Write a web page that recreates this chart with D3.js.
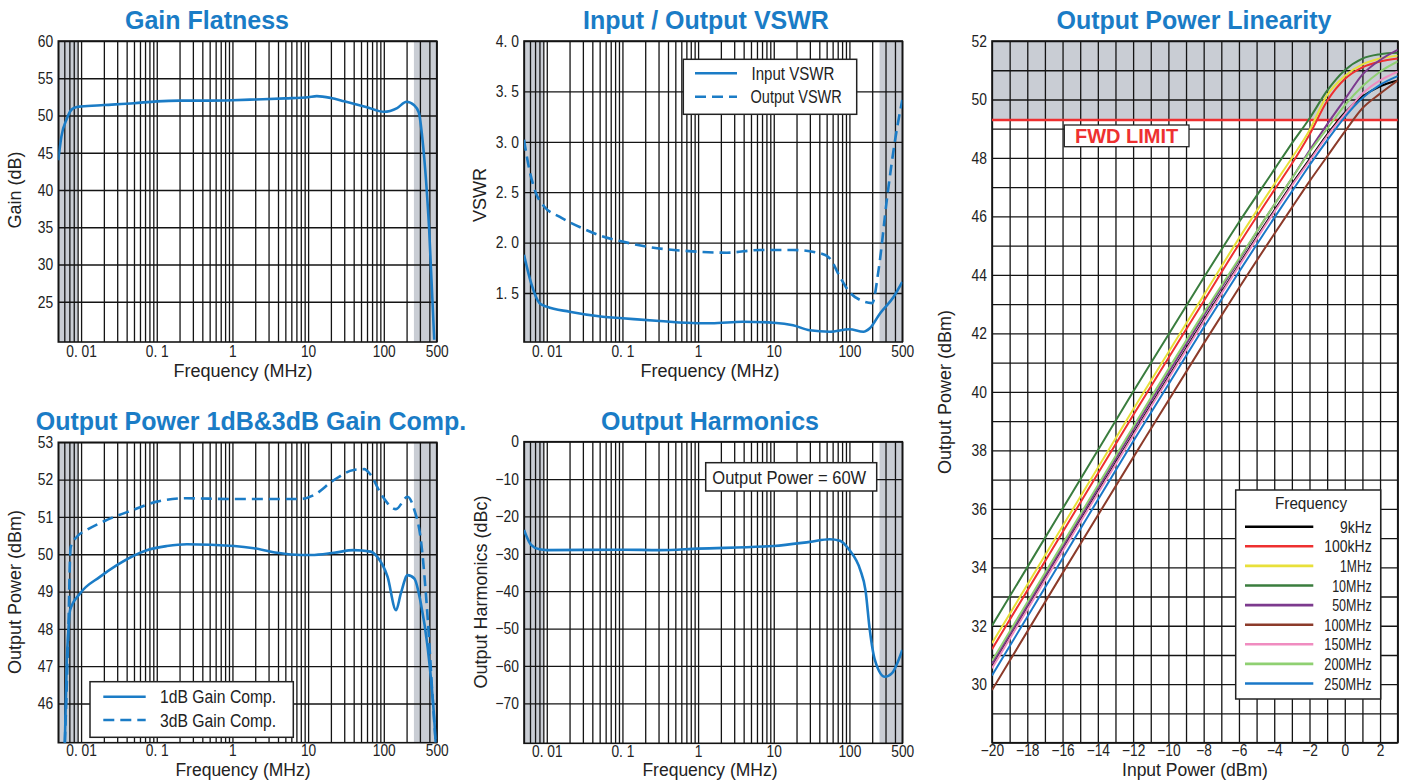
<!DOCTYPE html>
<html>
<head>
<meta charset="utf-8">
<script src="https://cdn.jsdelivr.net/npm/d3@7"></script>
<style>
  body { margin: 0; background: #fff; }
  svg text { font-family: "Liberation Sans", Arial, sans-serif; }
</style>
</head>
<body>
<svg id="chart" width="1403" height="780"></svg>
<script>
// ---------- data ----------
const freqDomain = [0.005, 500];
const xTickVals = [0.01, 0.1, 1, 10, 100, 500];
const xTickText = ['0. 01', '0. 1', '1', '10', '100', '500'];
const shadeBands = [[0.005, 0.009], [250, 500]];

const gainFreq = [0.005, 0.0055, 0.0065, 0.0075, 0.0088, 0.01, 0.02, 0.05, 0.1, 0.2, 0.5, 1, 2, 5, 10, 13, 20, 30, 60, 100, 150, 200, 250, 290, 325, 398, 464];
const gainDb   = [44.0, 47.2, 49.6, 50.8, 51.15, 51.2, 51.4, 51.65, 51.9, 52.0, 52.0, 52.05, 52.15, 52.3, 52.45, 52.6, 52.35, 51.9, 51.1, 50.5, 51.0, 51.85, 51.4, 50.4, 46.7, 34.6, 19.9];

const vswrInFreq = [0.005, 0.0062, 0.008, 0.01, 0.02, 0.055, 0.1, 0.31, 1, 1.5, 3.9, 10, 18, 30, 55, 100, 153, 186, 255, 383, 500];
const vswrIn     = [1.88, 1.60, 1.40, 1.365, 1.315, 1.265, 1.25, 1.222, 1.2, 1.2, 1.215, 1.205, 1.18, 1.13, 1.116, 1.14, 1.116, 1.15, 1.30, 1.46, 1.61];
const vswrOutFreq = [0.005, 0.0059, 0.0072, 0.0093, 0.0147, 0.03, 0.055, 0.1, 0.21, 1, 2.4, 6.6, 18, 41, 55, 75, 100, 139, 200, 243, 316, 408, 500];
const vswrOut     = [3.02, 2.72, 2.49, 2.356, 2.257, 2.14, 2.06, 2.01, 1.96, 1.91, 1.90, 1.927, 1.927, 1.894, 1.844, 1.66, 1.51, 1.43, 1.40, 1.73, 2.455, 3.05, 3.415];

const comp1Freq = [0.0061, 0.00646, 0.0068, 0.00715, 0.0097, 0.0179, 0.0297, 0.074, 0.136, 0.25, 1.06, 1.92, 3.9, 7.9, 11, 22, 40, 67, 82, 112, 145, 168, 206, 253, 309, 379, 462, 485];
const comp1     = [44.93, 47.08, 47.97, 48.5, 48.95, 49.4, 49.71, 50.11, 50.22, 50.27, 50.22, 50.16, 50.04, 49.98, 49.98, 50.04, 50.11, 50.07, 49.93, 49.4, 48.5, 48.95, 49.44, 49.35, 48.68, 47.52, 45.64, 44.95];
const comp3Freq = [0.0061, 0.0068, 0.00715, 0.0073, 0.0088, 0.0119, 0.022, 0.049, 0.1, 0.25, 1, 7.9, 12, 22, 40, 55, 67, 91, 145, 206, 253, 309, 379, 441, 485];
const comp3     = [44.95, 48.0, 49.93, 50.2, 50.47, 50.65, 50.92, 51.19, 51.41, 51.5, 51.48, 51.48, 51.59, 51.99, 52.26, 52.28, 52.13, 51.63, 51.21, 51.54, 51.19, 50.38, 48.32, 46.18, 44.95];

const harmFreq = [0.005, 0.0062, 0.008, 0.01, 0.1, 0.31, 1, 10, 30, 55, 75, 100, 139, 163, 186, 217, 294, 363, 500];
const harmDbc  = [-23.6, -27.6, -28.8, -29.0, -28.9, -29.0, -28.6, -27.9, -26.8, -26.1, -26.5, -29.0, -34.3, -39.7, -50.4, -58.4, -62.9, -62.0, -55.7];

const linInput = [-20, -16, -12, -8, -6, -4, -3, -2, -1, 0, 1, 2, 3];
const lin9k   = [30.6, 34.6, 38.55, 42.45, 44.35, 46.2, 47.1, 47.95, 48.8, 49.55, 50.1, 50.45, 50.65];
const lin100k = [31.2, 35.2, 39.2, 43.1, 45.05, 46.9, 47.8, 48.8, 49.95, 50.7, 51.1, 51.3, 51.4];
const lin1M   = [31.4, 35.4, 39.4, 43.3, 45.25, 47.1, 48.0, 48.95, 50.15, 50.8, 51.2, 51.4, 51.5];
const lin10M  = [32.0, 36.0, 40.0, 43.9, 45.8, 47.6, 48.5, 49.35, 50.3, 51.0, 51.4, 51.55, 51.6];
const lin50M  = [30.7, 34.7, 38.7, 42.6, 44.5, 46.4, 47.3, 48.25, 49.15, 50.0, 50.85, 51.35, 51.7];
const lin100M = [29.8, 33.8, 37.75, 41.65, 43.55, 45.4, 46.3, 47.2, 48.05, 48.9, 49.7, 50.2, 50.65];
const lin150M = [30.55, 34.55, 38.5, 42.4, 44.3, 46.15, 47.05, 47.9, 48.75, 49.5, 50.2, 50.65, 50.95];
const lin200M = [30.8, 34.8, 38.8, 42.7, 44.55, 46.4, 47.3, 48.2, 49.0, 49.8, 50.45, 50.95, 51.3];
const lin250M = [30.3, 34.3, 38.3, 42.2, 44.1, 45.95, 46.85, 47.75, 48.6, 49.4, 50.05, 50.5, 50.8];
const linNames  = ['9kHz', '100kHz', '1MHz', '10MHz', '50MHz', '100MHz', '150MHz', '200MHz', '250MHz'];
const linValues = [lin9k, lin100k, lin1M, lin10M, lin50M, lin100M, lin150M, lin200M, lin250M];
const linColors = ['#000000', '#ee3030', '#e8e03a', '#3a7d3e', '#7c3a8e', '#8c3b2a', '#f08cc0', '#8fd072', '#1a78c8'];
const fwdLimit = 49.3;

// ---------- drawing ----------
const svg = d3.select('#chart');
const BLUE = '#1b7cc6';
const TITLE = '#1a7cc6';
const GRAY = '#c9cdd4';
const GRID = '#141414';
const MONO = '"Liberation Mono", "DejaVu Sans Mono", monospace';
let clipId = 0;

function styleTicks(sel, size, sx) {
  sel.select('.domain').remove();
  sel.selectAll('text')
    .attr('font-size', size)
    .attr('fill', '#222')
    .attr('font-family', '"Liberation Sans", Arial, sans-serif')
    .attr('transform', `scale(${sx},1)`);
}

function title(txt, cx, y) {
  svg.append('text').attr('x', cx).attr('y', y)
    .attr('text-anchor', 'middle').attr('font-weight', 'bold')
    .attr('font-size', 25).attr('fill', TITLE).text(txt);
}

function yLabel(txt, cx, cy) {
  svg.append('text')
    .attr('transform', `translate(${cx},${cy}) rotate(-90)`)
    .attr('text-anchor', 'middle').attr('dominant-baseline', 'central')
    .attr('font-size', 18).attr('fill', '#222').text(txt);
}

function xLabel(txt, cx, y, size) {
  svg.append('text').attr('x', cx).attr('y', y)
    .attr('text-anchor', 'middle').attr('font-size', size || 18).attr('fill', '#222').text(txt);
}

function monoText(g, x, y, str, anchor, charW, size) {
  g.append('text').attr('x', x).attr('y', y)
    .attr('font-family', MONO).attr('font-size', size).attr('fill', '#222')
    .attr('text-anchor', anchor)
    .attr('textLength', str.length * charW).attr('lengthAdjust', 'spacingAndGlyphs')
    .text(str);
}

function logPanel(p) {
  const g = svg.append('g');
  const w = p.right - p.left, h = p.bottom - p.top;
  const x = d3.scaleLog().domain(freqDomain).range([p.left, p.right]);
  const y = d3.scaleLinear().domain(p.yDomain).range([p.bottom, p.top]);

  g.selectAll('rect.band').data(shadeBands).join('rect')
    .attr('class', 'band')
    .attr('x', d => x(d[0])).attr('width', d => x(d[1]) - x(d[0]))
    .attr('y', p.top).attr('height', h).attr('fill', GRAY);

  g.append('g').attr('transform', `translate(0,${p.bottom})`)
    .call(d3.axisBottom(x).tickValues(x.ticks()).tickSize(-h).tickFormat(''))
    .call(a => a.select('.domain').remove())
    .selectAll('line').attr('stroke', GRID).attr('stroke-width', 1.3);

  g.append('g').attr('transform', `translate(${p.left},0)`)
    .call(d3.axisLeft(y).tickValues(p.yTicks).tickSize(-w).tickFormat(''))
    .call(a => a.select('.domain').remove())
    .selectAll('line').attr('stroke', GRID).attr('stroke-width', 1.3);

  g.append('rect').attr('x', p.left).attr('y', p.top).attr('width', w).attr('height', h)
    .attr('fill', 'none').attr('stroke', GRID).attr('stroke-width', 1.6);

  g.append('g').attr('transform', `translate(0,${p.bottom})`)
    .call(d3.axisBottom(x).tickValues(xTickVals).tickSize(0).tickPadding(p.xPad)
      .tickFormat((d, i) => xTickText[i]))
    .call(a => styleTicks(a, 16, 0.86));

  g.append('g').attr('transform', `translate(${p.left},0)`)
    .call(d3.axisLeft(y).tickValues(p.yTicks).tickSize(0).tickPadding(6)
      .tickFormat((d, i) => p.yText[i]))
    .call(a => styleTicks(a, 16.5, 0.84));

  const id = 'clip' + (clipId++);
  g.append('clipPath').attr('id', id).append('rect')
    .attr('x', p.left).attr('y', p.top).attr('width', w).attr('height', h);
  const plot = g.append('g').attr('clip-path', `url(#${id})`);

  const line = d3.line().x(d => x(d[0])).y(d => y(d[1])).curve(d3.curveMonotoneX);
  p.series.forEach(s => {
    plot.append('path')
      .datum(s.f.map((f, i) => [f, s.v[i]]))
      .attr('d', line).attr('fill', 'none')
      .attr('stroke', BLUE).attr('stroke-width', 2.6)
      .attr('stroke-dasharray', s.dash ? '11,6' : null);
  });
  return g;
}

// Gain Flatness
title('Gain Flatness', 207, 29);
logPanel({
  left: 58.3, right: 436.7, top: 41, bottom: 342, xPad: 4,
  yDomain: [19.6, 60], yTicks: [25, 30, 35, 40, 45, 50, 55, 60],
  yText: ['25', '30', '35', '40', '45', '50', '55', '60'],
  series: [{ f: gainFreq, v: gainDb }]
});
yLabel('Gain (dB)', 15, 190);
xLabel('Frequency (MHz)', 243, 377);

// VSWR
title('Input / Output VSWR', 706, 29);
const gV = logPanel({
  left: 524, right: 902.3, top: 41, bottom: 342, xPad: 4,
  yDomain: [1.014, 4.0], yTicks: [1.5, 2.0, 2.5, 3.0, 3.5, 4.0],
  yText: ['1. 5', '2. 0', '2. 5', '3. 0', '3. 5', '4. 0'],
  series: [{ f: vswrInFreq, v: vswrIn }, { f: vswrOutFreq, v: vswrOut, dash: true }]
});
yLabel('VSWR', 480, 195);
xLabel('Frequency (MHz)', 710, 377);
gV.append('rect').attr('x', 683.3).attr('y', 59.3).attr('width', 173.4).attr('height', 55)
  .attr('fill', '#fff').attr('stroke', '#222').attr('stroke-width', 1.5);
gV.append('line').attr('x1', 695).attr('x2', 737).attr('y1', 73.3).attr('y2', 73.3)
  .attr('stroke', BLUE).attr('stroke-width', 2.6);
gV.append('line').attr('x1', 695).attr('x2', 737).attr('y1', 96.7).attr('y2', 96.7)
  .attr('stroke', BLUE).attr('stroke-width', 2.6).attr('stroke-dasharray', '11,6');
monoText(gV, 751.5, 80, 'Input VSWR', 'start', 8.3, 18);
monoText(gV, 750.5, 103, 'Output VSWR', 'start', 8.3, 18);

// 1dB & 3dB Gain Comp.
title('Output Power 1dB&3dB Gain Comp.', 251, 430);
const gC = logPanel({
  left: 58.3, right: 436.7, top: 442.3, bottom: 742.7, xPad: 2,
  yDomain: [44.95, 53], yTicks: [46, 47, 48, 49, 50, 51, 52, 53],
  yText: ['46', '47', '48', '49', '50', '51', '52', '53'],
  series: [{ f: comp1Freq, v: comp1 }, { f: comp3Freq, v: comp3, dash: true }]
});
yLabel('Output Power (dBm)', 15, 592);
xLabel('Frequency (MHz)', 243, 775.5, 17.5);
gC.append('rect').attr('x', 90).attr('y', 681.7).attr('width', 203.3).attr('height', 55.6)
  .attr('fill', '#fff').attr('stroke', '#222').attr('stroke-width', 1.5);
gC.append('line').attr('x1', 103.3).attr('x2', 145.7).attr('y1', 696.7).attr('y2', 696.7)
  .attr('stroke', BLUE).attr('stroke-width', 2.6);
gC.append('line').attr('x1', 103.3).attr('x2', 145.7).attr('y1', 720).attr('y2', 720)
  .attr('stroke', BLUE).attr('stroke-width', 2.6).attr('stroke-dasharray', '11,6');
monoText(gC, 160, 703, '1dB Gain Comp.', 'start', 8.3, 18);
monoText(gC, 160, 727, '3dB Gain Comp.', 'start', 8.3, 18);

// Output Harmonics
title('Output Harmonics', 710, 430);
const gH = logPanel({
  left: 524, right: 902.3, top: 441.7, bottom: 743.3, xPad: 2,
  yDomain: [-80.7, 0], yTicks: [-70, -60, -50, -40, -30, -20, -10, 0],
  yText: ['\u221270', '\u221260', '\u221250', '\u221240', '\u221230', '\u221220', '\u221210', '0'],
  series: [{ f: harmFreq, v: harmDbc }]
});
yLabel('Output Harmonics (dBc)', 481, 592);
xLabel('Frequency (MHz)', 710, 775.5, 17.5);
gH.append('rect').attr('x', 705.7).attr('y', 462.7).attr('width', 171).attr('height', 28.3)
  .attr('fill', '#fff').attr('stroke', '#222').attr('stroke-width', 1.5);
monoText(gH, 712.3, 483.5, 'Output Power = 60W', 'start', 8.55, 18);

// Output Power Linearity
title('Output Power Linearity', 1194, 29);
(function () {
  const p = { left: 992, right: 1397.7, top: 41, bottom: 742.7 };
  const w = p.right - p.left, h = p.bottom - p.top;
  const g = svg.append('g');
  const x = d3.scaleLinear().domain([-20, 3]).range([p.left, p.right]);
  const y = d3.scaleLinear().domain([28, 52]).range([p.bottom, p.top]);

  g.append('rect').attr('x', p.left).attr('width', w)
    .attr('y', y(52)).attr('height', y(fwdLimit) - y(52)).attr('fill', GRAY);

  g.append('g').attr('transform', `translate(0,${p.bottom})`)
    .call(d3.axisBottom(x).tickValues(d3.range(-20, 4, 1)).tickSize(-h).tickFormat(''))
    .call(a => a.select('.domain').remove())
    .selectAll('line').attr('stroke', GRID).attr('stroke-width', 1.3);
  g.append('g').attr('transform', `translate(${p.left},0)`)
    .call(d3.axisLeft(y).tickValues(d3.range(28, 53, 1)).tickSize(-w).tickFormat(''))
    .call(a => a.select('.domain').remove())
    .selectAll('line').attr('stroke', GRID).attr('stroke-width', 1.3);
  g.append('rect').attr('x', p.left).attr('y', p.top).attr('width', w).attr('height', h)
    .attr('fill', 'none').attr('stroke', GRID).attr('stroke-width', 1.6);

  g.append('g').attr('transform', `translate(0,${p.bottom})`)
    .call(d3.axisBottom(x).tickValues(d3.range(-20, 3, 2)).tickSize(0).tickPadding(2)
      .tickFormat(d => d < 0 ? '\u2212' + Math.abs(d) : String(d)))
    .call(a => styleTicks(a, 16, 0.86));
  g.append('g').attr('transform', `translate(${p.left},0)`)
    .call(d3.axisLeft(y).tickValues(d3.range(30, 53, 2)).tickSize(0).tickPadding(6))
    .call(a => styleTicks(a, 16.5, 0.84));

  g.append('line').attr('x1', p.left).attr('x2', p.right)
    .attr('y1', y(fwdLimit)).attr('y2', y(fwdLimit))
    .attr('stroke', '#ee3030').attr('stroke-width', 2.6);
  g.append('rect').attr('x', 1064.3).attr('y', 125).attr('width', 124.7).attr('height', 21.7)
    .attr('fill', '#fff').attr('stroke', '#222').attr('stroke-width', 1.3);
  g.append('text').attr('x', 1126.6).attr('y', 143).attr('text-anchor', 'middle')
    .attr('font-weight', 'bold').attr('font-size', 20).attr('fill', '#ee3030').text('FWD LIMIT');

  g.append('clipPath').attr('id', 'clipLin').append('rect')
    .attr('x', p.left).attr('y', p.top).attr('width', w).attr('height', h);
  const plot = g.append('g').attr('clip-path', 'url(#clipLin)');
  const line = d3.line().x(d => x(d[0])).y(d => y(d[1])).curve(d3.curveMonotoneX);
  linValues.forEach((vals, k) => {
    plot.append('path')
      .datum(linInput.map((v, i) => [v, vals[i]]))
      .attr('d', line).attr('fill', 'none')
      .attr('stroke', linColors[k]).attr('stroke-width', 2);
  });

  // legend
  const lg = g.append('g');
  lg.append('rect').attr('x', 1235.7).attr('y', 490).attr('width', 145).attr('height', 209)
    .attr('fill', '#fff').attr('stroke', '#222').attr('stroke-width', 1.5);
  monoText(lg, 1311, 508.5, 'Frequency', 'middle', 8, 16);
  linNames.forEach((n, k) => {
    const yy = 526.7 + k * 19.6;
    lg.append('line').attr('x1', 1245).attr('x2', 1313.3).attr('y1', yy).attr('y2', yy)
      .attr('stroke', linColors[k]).attr('stroke-width', 2.6);
    monoText(lg, 1371.7, yy + 6, n, 'end', 7.9, 16);
  });

  yLabel('Output Power (dBm)', 945, 392);
  xLabel('Input Power (dBm)', 1195, 775.5, 17.5);
})();
</script>
</body>
</html>
